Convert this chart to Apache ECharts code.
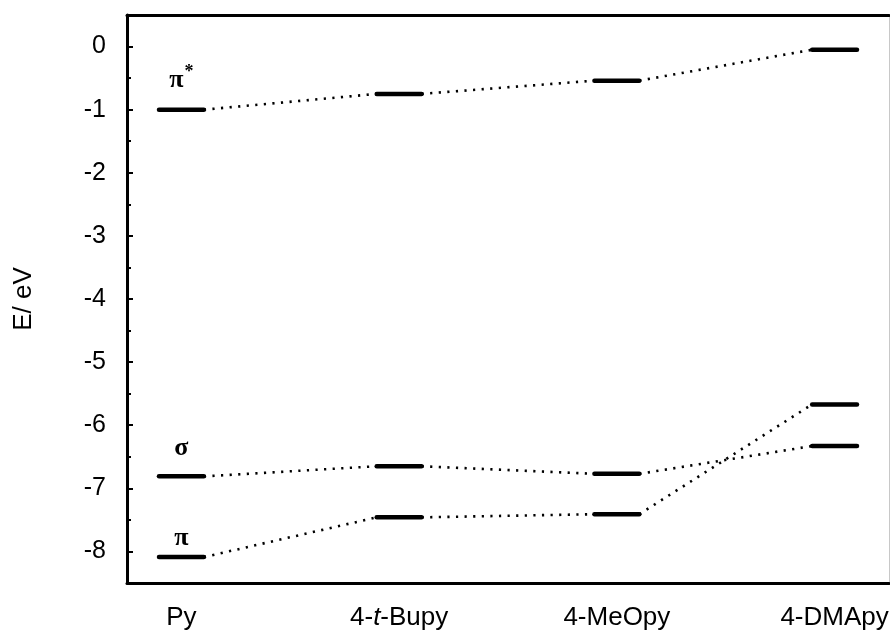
<!DOCTYPE html>
<html>
<head>
<meta charset="utf-8">
<title>Orbital energy levels</title>
<script src="https://cdn.jsdelivr.net/npm/echarts@6/dist/echarts.min.js"></script>
<style>
  html, body { margin: 0; padding: 0; background: #fff; }
  #chart { width: 890px; height: 637px; }
</style>
</head>
<body>
<div id="chart"></div>
<script>
// categories on the x axis (index 0..3)
const categories = ['Py', '4-t-Bupy', '4-MeOpy', '4-DMApy']
// orbital energies / eV
const piStar = [-1.0, -0.75, -0.54, -0.05]
const sigma = [-6.81, -6.65, -6.77, -6.33]
const pi = [-8.09, -7.46, -7.41, -5.67]
// y axis ticks
const yMajor = [0, -1, -2, -3, -4, -5, -6, -7, -8]
const yMinor = [-0.5, -1.5, -2.5, -3.5, -4.5, -5.5, -6.5, -7.5]

const HALF = 0.103 // half width of a level bar, in category units
const SANS = '"Liberation Sans", Arial, sans-serif'
const SERIF = 'bold 26px "Liberation Serif", "DejaVu Serif", serif'

/* one orbital: level bars + dotted connectors + label above the first bar */
function levelSeries(name, values, label, lift) {
  return {
    type: 'custom',
    name: name,
    silent: true,
    clip: false,
    data: values.map((v, i) => [i, v]),
    renderItem(params, api) {
      const i = api.value(0)
      const v = api.value(1)
      const a = api.coord([i - HALF, v])
      const b = api.coord([i + HALF, v])
      const children = [{
        type: 'line',
        shape: { x1: a[0], y1: a[1], x2: b[0], y2: b[1] },
        style: { stroke: '#000', lineWidth: 4.5, lineCap: 'round' }
      }]
      if (i < values.length - 1) {
        const c = api.coord([i + 1 - HALF, values[i + 1]])
        children.push({
          type: 'line',
          shape: { x1: b[0], y1: b[1], x2: c[0], y2: c[1] },
          style: { stroke: '#000', lineWidth: 2.6, lineDash: [2.2, 6.4], lineCap: 'butt' }
        })
      }
      if (i === 0) {
        children.push({
          type: 'text',
          style: {
            text: label,
            x: (a[0] + b[0]) / 2,
            y: a[1] - lift,
            align: 'center',
            verticalAlign: 'bottom',
            font: SERIF,
            fill: '#000',
            rich: {
              p: { font: SERIF },
              s: { font: 'bold 18px "Liberation Serif", serif', padding: [0, 0, 16, 1] }
            }
          }
        })
      }
      return { type: 'group', children: children }
    }
  }
}

const chart = echarts.init(document.getElementById('chart'))
chart.setOption({
  animation: false,
  grid: { left: 127, right: 1, top: 15, bottom: 54, containLabel: false, outerBoundsMode: 'none' },
  xAxis: [
    {
      type: 'value',
      position: 'bottom',
      min: -0.25,
      max: 3.25,
      axisLine: { onZero: false, lineStyle: { color: '#000', width: 3 } },
      axisTick: { show: false },
      splitLine: { show: false },
      axisLabel: {
        customValues: [0, 1, 2, 3],
        formatter: v => categories[Math.round(v)].replace('-t-', '-{i|t}-'),
        margin: 22,
        color: '#000',
        fontSize: 26,
        fontFamily: SANS,
        rich: {
          i: { fontSize: 26, fontStyle: 'italic', fontFamily: SANS, color: '#000' }
        }
      }
    },
    {
      type: 'value',
      position: 'top',
      min: -0.25,
      max: 3.25,
      axisLine: { onZero: false, lineStyle: { color: '#000', width: 3 } },
      axisTick: { show: false },
      axisLabel: { show: false },
      splitLine: { show: false }
    }
  ],
  yAxis: [
    {
      type: 'value',
      position: 'left',
      min: -8.5,
      max: 0.5,
      name: 'E/ eV',
      nameLocation: 'middle',
      nameRotate: 90,
      nameGap: 90,
      nameTextStyle: { color: '#000', fontSize: 26, fontFamily: SANS },
      axisLine: { onZero: false, lineStyle: { color: '#000', width: 3 } },
      axisTick: { inside: true, length: 6, customValues: yMajor, lineStyle: { color: '#000', width: 2 } },
      axisLabel: {
        customValues: yMajor,
        margin: 21,
        color: '#000',
        fontSize: 25,
        fontFamily: SANS
      },
      splitLine: { show: false }
    },
    {
      // minor ticks at the half units
      type: 'value',
      position: 'left',
      min: -8.5,
      max: 0.5,
      axisLine: { show: false, onZero: false },
      axisTick: { inside: true, length: 4, customValues: yMinor, lineStyle: { color: '#000', width: 2 } },
      axisLabel: { show: false },
      splitLine: { show: false }
    },
    {
      // thin right border
      type: 'value',
      position: 'right',
      min: -8.5,
      max: 0.5,
      axisLine: { onZero: false, lineStyle: { color: '#c8c8c8', width: 1 } },
      axisTick: { show: false },
      axisLabel: { show: false },
      splitLine: { show: false }
    }
  ],
  series: [
    levelSeries('pi*', piStar, '{p|π}{s|*}', 12),
    levelSeries('sigma', sigma, 'σ', 15),
    levelSeries('pi', pi, 'π', 6)
  ]
})
</script>
</body>
</html>
